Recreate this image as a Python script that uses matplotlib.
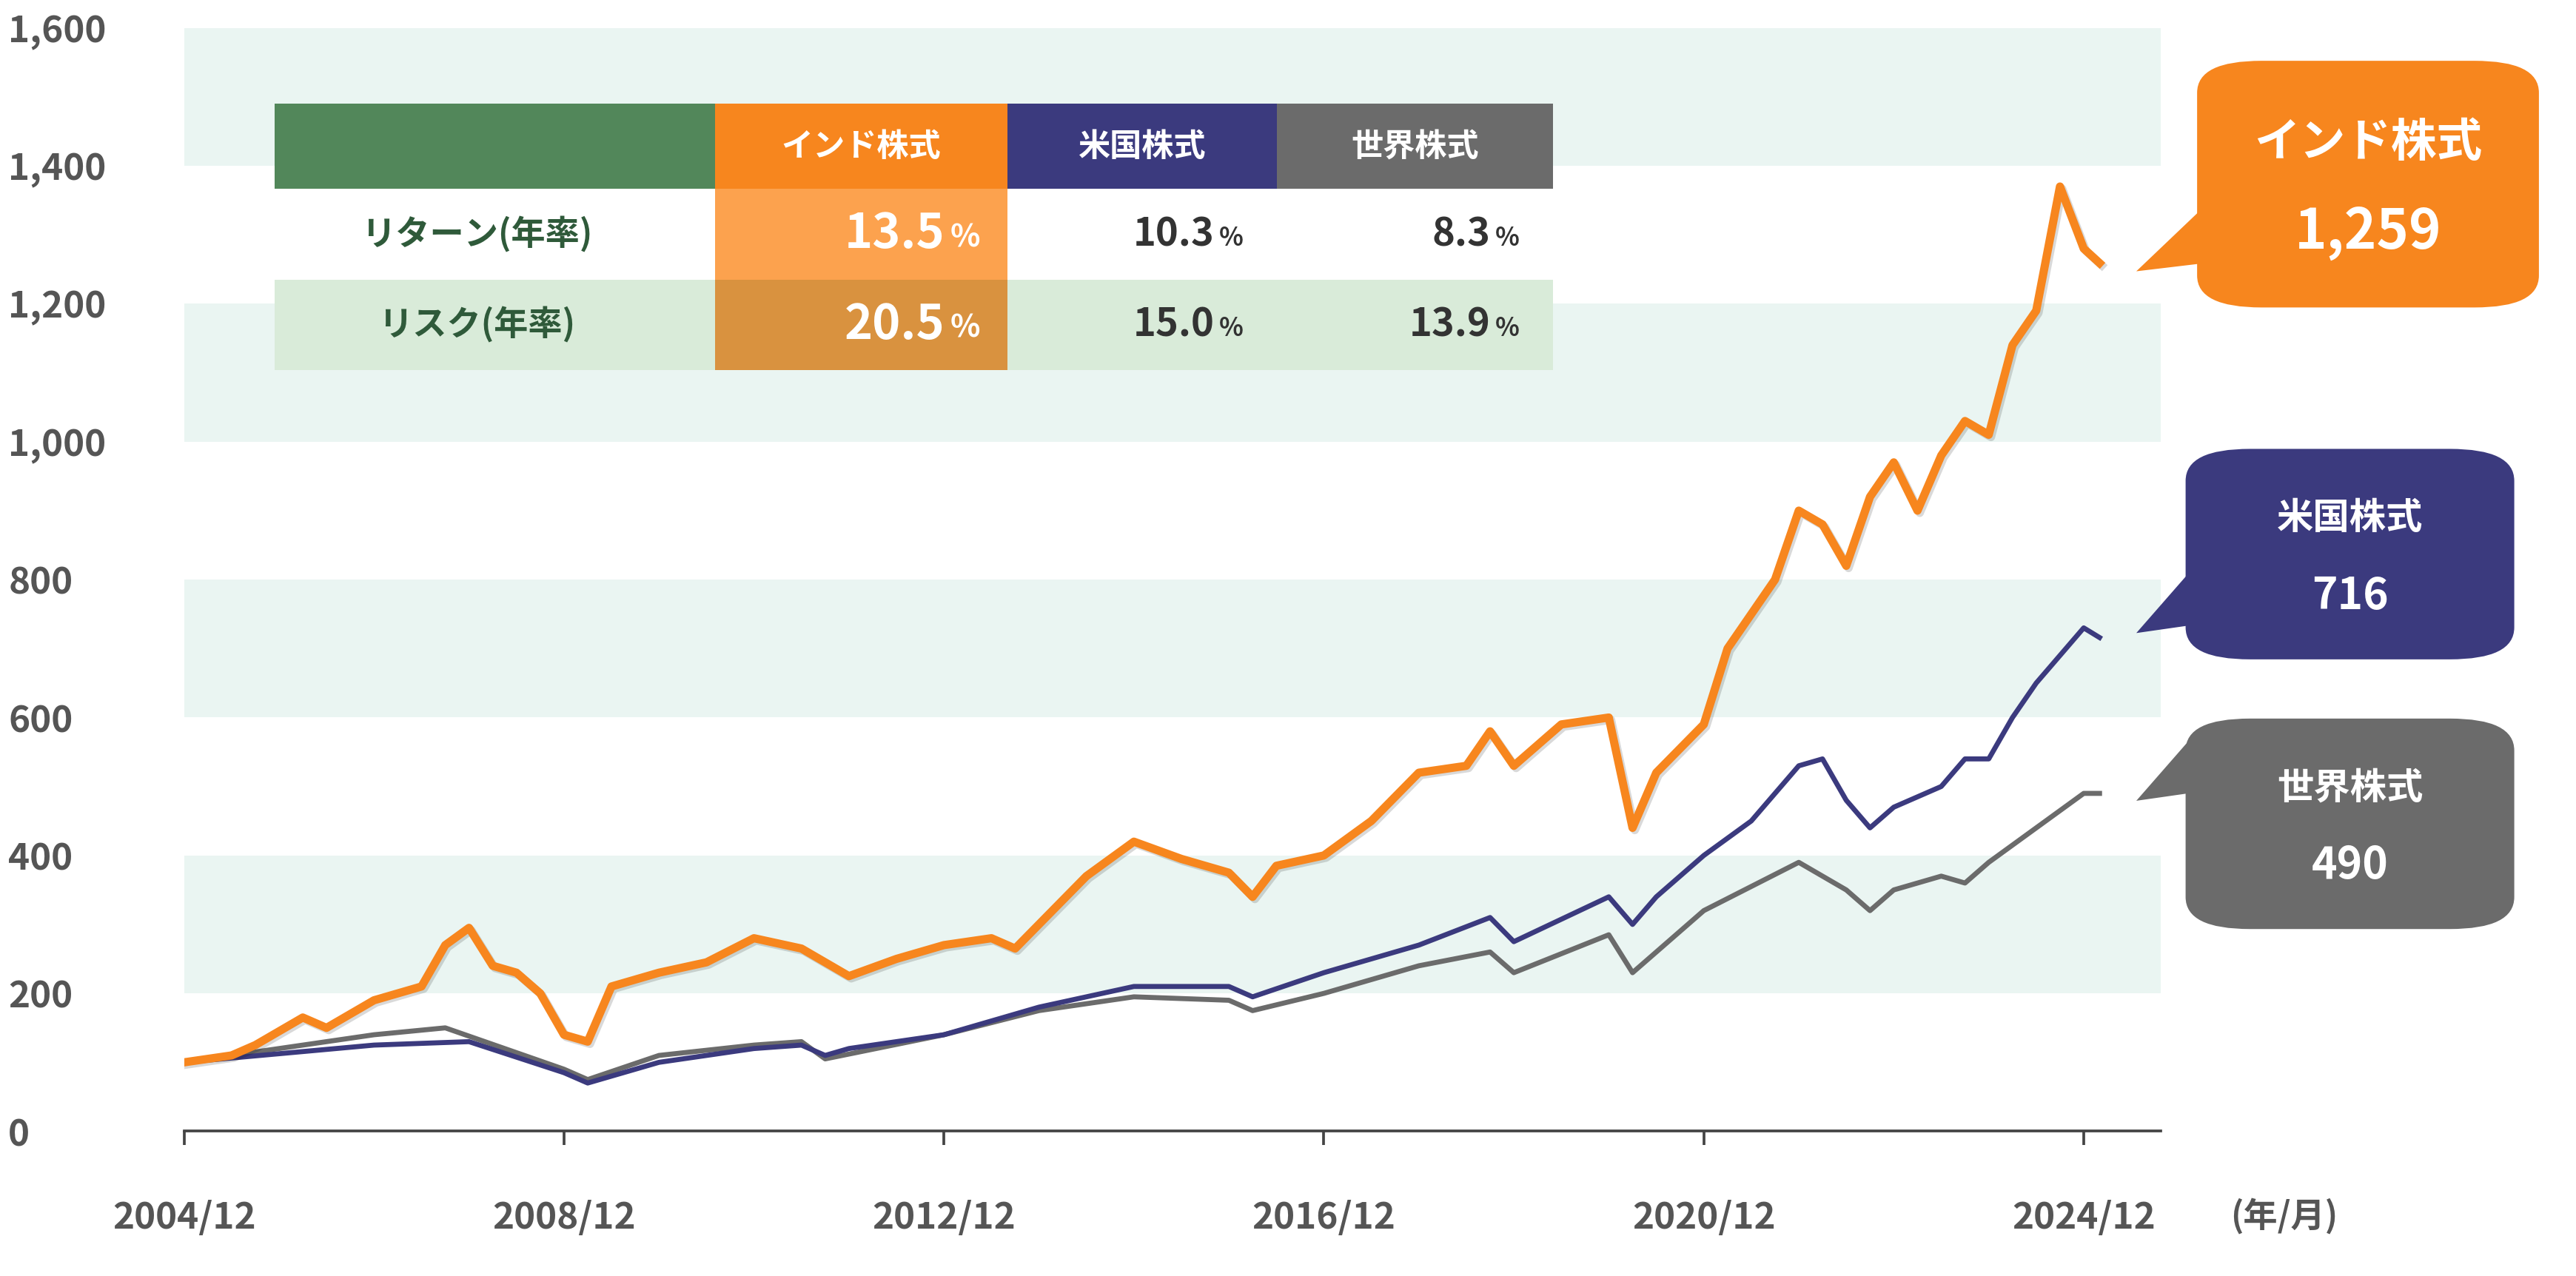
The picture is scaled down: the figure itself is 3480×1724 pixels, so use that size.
import numpy as np
import matplotlib.pyplot as plt
from matplotlib.patches import FancyBboxPatch, Rectangle, Polygon
import matplotlib.patheffects as pe

plt.rcParams['font.family'] = ['Noto Sans CJK JP']
plt.rcParams['font.weight'] = 'bold'

# data (年/月, index value)
india_dates = ['2004/12','2005/6','2005/9','2006/3','2006/6','2006/12','2007/6','2007/9','2007/12','2008/3',
               '2008/6','2008/9','2008/12','2009/3','2009/6','2009/12','2010/6','2010/12','2011/6','2011/12',
               '2012/6','2012/12','2013/6','2013/9','2013/12','2014/6','2014/12','2015/6','2015/12','2016/3',
               '2016/6','2016/12','2017/6','2017/12','2018/6','2018/9','2018/12','2019/6','2019/12','2020/3',
               '2020/6','2020/12','2021/3','2021/6','2021/9','2021/12','2022/3','2022/6','2022/9','2022/12',
               '2023/3','2023/6','2023/9','2023/12','2024/3','2024/6','2024/9','2024/12','2025/2']
india_vals = [100,110,125,165,150,190,210,270,295,240,
              230,200,140,130,210,230,245,280,265,225,
              250,270,280,265,300,370,420,395,375,340,
              385,400,450,520,530,580,530,590,600,440,
              520,590,700,750,800,900,880,820,920,970,
              900,980,1030,1010,1140,1190,1370,1280,1259]

us_dates = ['2004/12','2006/12','2007/12','2008/12','2009/3','2009/12','2010/12','2011/6','2011/9','2011/12',
            '2012/12','2013/12','2014/12','2015/12','2016/3','2016/12','2017/12','2018/9','2018/12','2019/12',
            '2020/3','2020/6','2020/12','2021/6','2021/12','2022/3','2022/6','2022/9','2022/12','2023/6',
            '2023/9','2023/12','2024/3','2024/6','2024/9','2024/12','2025/2']
us_vals = [100,125,130,85,70,100,120,125,110,120,
           140,180,210,210,195,230,270,310,275,340,
           300,340,400,450,530,540,480,440,470,500,
           540,540,600,650,690,730,716]

world_dates = ['2004/12','2006/12','2007/9','2008/12','2009/3','2009/12','2010/12','2011/6','2011/9','2012/12',
               '2013/12','2014/12','2015/12','2016/3','2016/12','2017/12','2018/9','2018/12','2019/12','2020/3',
               '2020/12','2021/12','2022/6','2022/9','2022/12','2023/6','2023/9','2023/12','2024/6','2024/12','2025/2']
world_vals = [100,140,150,90,75,110,125,130,105,140,
              175,195,190,175,200,240,260,230,285,230,
              320,390,350,320,350,370,360,390,440,490,490]

xtick_labels = ['2004/12', '2008/12', '2012/12', '2016/12', '2020/12', '2024/12']
ytick_vals = [0, 200, 400, 600, 800, 1000, 1200, 1400, 1600]

table_cols = ['インド株式', '米国株式', '世界株式']
table_rows = ['リターン(年率)', 'リスク(年率)']
table_vals = [['13.5', '10.3', '8.3'], ['20.5', '15.0', '13.9']]
callouts = [('インド株式', '1,259'), ('米国株式', '716'), ('世界株式', '490')]

ORANGE = '#F7861E'
NAVY = '#3B3A7E'
GRAY = '#6B6B6B'


def to_year(s):
    y, m = s.split('/')
    return int(y) + (int(m) - 1) / 12


W, H = 1568, 776
fig = plt.figure(figsize=(15.68, 7.766), dpi=222)
ax = fig.add_axes([112 / W, 1 - 688 / H, (1315 - 112) / W, (688 - 17) / H])
x0 = to_year('2004/12')
ax.set_xlim(x0, x0 + 1203 / 57.8)
ax.set_ylim(0, 1600)

for lo in [200, 600, 1000, 1400]:
    ax.axhspan(lo, lo + 200, color='#EAF5F2', zorder=0, lw=0)

ax.plot([to_year(d) for d in world_dates], world_vals, color=GRAY, lw=2.2, zorder=3)
ax.plot([to_year(d) for d in us_dates], us_vals, color=NAVY, lw=2.2, zorder=4)
ax.plot([to_year(d) for d in india_dates], india_vals, color=ORANGE, lw=3.6, zorder=5,
        path_effects=[pe.SimpleLineShadow(offset=(1, -1), alpha=0.15), pe.Normal()])

for s in ['left', 'right', 'top']:
    ax.spines[s].set_visible(False)
ax.spines['bottom'].set_color('#444444')
ax.spines['bottom'].set_linewidth(1.2)
ax.set_yticks(ytick_vals)
ax.set_yticklabels([f'{v:,}' for v in ytick_vals])
ax.tick_params(axis='y', length=0, pad=77, labelsize=16, labelcolor='#555555')
for t in ax.get_yticklabels():
    t.set_horizontalalignment('left')
ax.set_xticks([x0 + 4 * i for i in range(len(xtick_labels))])
ax.set_xticklabels(xtick_labels)
ax.tick_params(axis='x', length=6, width=1.2, color='#444444', pad=24, labelsize=16, labelcolor='#555555')
fig.text(1390 / W, 1 - 740 / H, '(年/月)', ha='center', va='center', fontsize=15, color='#555555')


def box(x1, y1, x2, y2, color):
    fig.patches.append(Rectangle((x1 / W, 1 - y2 / H), (x2 - x1) / W, (y2 - y1) / H,
                                 transform=fig.transFigure, color=color, lw=0, zorder=10))


def txt(x, y, s, ha='center', **kw):
    fig.text(x / W, 1 - y / H, s, ha=ha, va='center', zorder=12, **kw)


# table
colx = [167, 435, 613, 777, 945]
rowy = [63, 115, 170, 225]
box(167, 63, 435, 115, '#52875A')
head_colors = [ORANGE, NAVY, GRAY]
for j, c in enumerate(table_cols):
    box(colx[j + 1], 63, colx[j + 2], 115, head_colors[j])
    txt((colx[j + 1] + colx[j + 2]) / 2, 89, c, color='white', fontsize=14)
box(167, 170, 945, 225, '#D9EBD9')
box(435, 115, 613, 170, '#FCA24E')
box(435, 170, 613, 225, '#D9923F')
for i, r in enumerate(table_rows):
    yc = (rowy[i + 1] + rowy[i + 2]) / 2
    txt(290, yc, r, color='#2F5A3A', fontsize=15)
    for j, v in enumerate(table_vals[i]):
        xr = colx[j + 2] - 35
        col = 'white' if j == 0 else '#333333'
        fs = 21 if j == 0 else 17
        txt(xr, yc + 2, '%', ha='left', color=col, fontsize=fs * 0.65)
        txt(xr - 3, yc, v, ha='right', color=col, fontsize=fs)

# callouts
cboxes = [(1337, 37, 1545, 187, 1300, 165, ORANGE, 20, 24),
          (1330, 273, 1530, 401, 1300, 385, NAVY, 16, 19),
          (1330, 437, 1530, 565, 1300, 487, GRAY, 16, 19)]
for (name, val), (x1, y1, x2, y2, px, py, col, fs1, fs2) in zip(callouts, cboxes):
    fig.patches.append(FancyBboxPatch((x1 / W, 1 - y2 / H), (x2 - x1) / W, (y2 - y1) / H,
                                      boxstyle='round,pad=0,rounding_size=0.025', transform=fig.transFigure,
                                      color=col, lw=0, zorder=10))
    fig.patches.append(Polygon([(px / W, 1 - py / H), ((x1 + 5) / W, 1 - (py - 40) / H),
                                ((x1 + 5) / W, 1 - (py - 5) / H)], closed=True,
                               transform=fig.transFigure, color=col, lw=0, zorder=10))
    txt((x1 + x2) / 2, y1 + (y2 - y1) * 0.33, name, color='white', fontsize=fs1)
    txt((x1 + x2) / 2, y1 + (y2 - y1) * 0.7, val, color='white', fontsize=fs2)

fig.savefig('out.png', dpi=222, facecolor='white')
